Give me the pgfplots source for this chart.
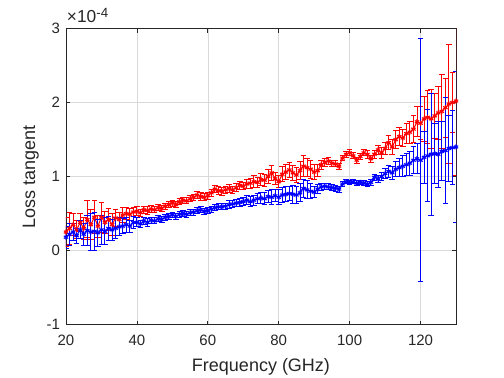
\documentclass[border=0pt]{standalone}
\usepackage{pgfplots}
\pgfplotsset{compat=1.18}
\usepackage{pgfplotstable}
\usepackage{fontspec}
\setmainfont{Liberation Sans}
\definecolor{axgray}{RGB}{38,38,38}
\pgfplotstableread{
x r re b be
20 0.25 0.20 0.18 0.15
21 0.30 0.22 0.22 0.15
22 0.35 0.15 0.25 0.12
23 0.28 0.12 0.20 0.10
24 0.38 0.12 0.28 0.12
25 0.30 0.15 0.22 0.15
26 0.42 0.25 0.27 0.20
27 0.35 0.20 0.25 0.25
28 0.45 0.22 0.26 0.26
29 0.33 0.15 0.24 0.18
30 0.45 0.20 0.28 0.20
31 0.38 0.15 0.26 0.18
32 0.42 0.15 0.30 0.16
33 0.35 0.15 0.28 0.14
34 0.44 0.12 0.30 0.14
35 0.42 0.10 0.32 0.12
36 0.48 0.10 0.33 0.10
37 0.50 0.08 0.35 0.10
38 0.49 0.08 0.33 0.08
39 0.52 0.06 0.38 0.08
40 0.53 0.06 0.38 0.06
41 0.51 0.05 0.36 0.05
42 0.55 0.05 0.40 0.05
43 0.54 0.05 0.38 0.05
44 0.56 0.05 0.41 0.04
45 0.55 0.04 0.40 0.04
46 0.58 0.04 0.43 0.04
47 0.57 0.04 0.42 0.04
48 0.60 0.04 0.45 0.04
49 0.62 0.04 0.46 0.04
50 0.64 0.04 0.48 0.04
51 0.62 0.04 0.46 0.04
52 0.66 0.04 0.49 0.04
53 0.68 0.04 0.50 0.04
54 0.67 0.04 0.49 0.04
55 0.70 0.04 0.51 0.04
56 0.72 0.04 0.52 0.04
57 0.75 0.05 0.54 0.04
58 0.73 0.05 0.55 0.04
59 0.72 0.05 0.53 0.04
60 0.74 0.05 0.54 0.04
61 0.78 0.05 0.56 0.04
62 0.83 0.05 0.58 0.04
63 0.81 0.05 0.59 0.04
64 0.80 0.05 0.59 0.04
65 0.82 0.05 0.60 0.04
66 0.84 0.05 0.62 0.05
67 0.82 0.05 0.63 0.05
68 0.85 0.05 0.64 0.05
69 0.88 0.05 0.65 0.05
70 0.87 0.05 0.66 0.05
71 0.90 0.06 0.68 0.06
72 0.91 0.07 0.66 0.07
73 0.93 0.08 0.68 0.07
74 0.92 0.07 0.70 0.07
75 0.96 0.08 0.71 0.07
76 0.95 0.08 0.70 0.08
77 1.00 0.09 0.73 0.08
78 1.05 0.10 0.72 0.10
79 0.97 0.08 0.74 0.08
80 0.93 0.08 0.72 0.10
81 1.03 0.10 0.75 0.10
82 1.06 0.10 0.76 0.10
83 1.09 0.10 0.77 0.10
84 1.05 0.10 0.76 0.12
85 1.02 0.10 0.75 0.12
86 1.08 0.12 0.78 0.12
87 1.14 0.14 0.84 0.12
88 1.12 0.12 0.82 0.12
89 1.10 0.12 0.80 0.10
90 1.06 0.10 0.79 0.08
91 1.08 0.08 0.83 0.06
92 1.16 0.06 0.86 0.05
93 1.19 0.05 0.87 0.04
94 1.21 0.05 0.86 0.04
95 1.18 0.04 0.85 0.04
96 1.17 0.04 0.84 0.04
97 1.14 0.04 0.83 0.04
98 1.25 0.04 0.90 0.03
99 1.30 0.04 0.93 0.03
100 1.32 0.04 0.92 0.03
101 1.28 0.04 0.93 0.03
102 1.22 0.04 0.91 0.03
103 1.27 0.04 0.92 0.03
104 1.32 0.04 0.91 0.03
105 1.30 0.05 0.90 0.03
106 1.24 0.05 0.92 0.04
107 1.30 0.05 0.99 0.04
108 1.36 0.06 0.97 0.05
109 1.32 0.07 1.00 0.06
110 1.38 0.08 1.04 0.07
111 1.46 0.09 1.07 0.08
112 1.40 0.10 1.05 0.09
113 1.50 0.12 1.10 0.10
114 1.54 0.12 1.12 0.12
115 1.52 0.12 1.14 0.14
116 1.58 0.13 1.16 0.15
117 1.60 0.15 1.18 0.16
118 1.64 0.18 1.22 0.18
119 1.74 0.20 1.24 0.20
120 1.72 0.22 1.22 1.64
121 1.78 0.30 1.26 0.35
122 1.80 0.36 1.28 0.62
123 1.78 0.40 1.30 0.82
124 1.82 0.30 1.31 0.40
125 1.86 0.36 1.30 0.45
126 1.88 0.50 1.34 0.40
127 1.93 0.40 1.35 0.72
128 1.98 0.80 1.38 0.45
129 2.00 0.40 1.39 0.50
130 2.02 1.00 1.40 1.02
}\data
\pgfplotsset{
  capstyle/.style={draw=#1, color=#1, line width=0.75pt, mark=none, forget plot,
    quiver={u=1.6, v=0, every arrow/.style={draw=#1, -}}},
}
\begin{document}
\begin{tikzpicture}
\useasboundingbox (-49.5pt,-40.1pt) rectangle (328.5pt,243.4pt);
\begin{axis}[
  at={(0,0)}, anchor=south west,
  scale only axis, width=292.5pt, height=222pt,
  xmin=20, xmax=130, ymin=-1, ymax=3,
  xtick={20,40,...,120}, ytick={-1,0,1,2,3},
  grid=major, major grid style={black!15, line width=0.4pt},
  axis line style={axgray, line width=0.5pt},
  tick style={axgray, line width=0.5pt},
  tick align=inside, major tick length=3pt,
  /pgf/number format/assume math mode=true,
  ticklabel style={font=\fontsize{11.25}{13}\selectfont, text=axgray},
  xticklabel style={yshift=-4pt},
  yticklabel style={xshift=-1pt},
  xlabel={Frequency (GHz)}, ylabel={Loss tangent},
  label style={font=\fontsize{13.5}{16}\selectfont, text=axgray},
  xlabel style={at={(axis description cs:0.5,-0.1426)}, anchor=center},
  ylabel style={at={(axis description cs:-0.09,0.5)}, anchor=center},
  clip=true,
]
% red series
\addplot[red, line width=0.75pt, mark=asterisk, mark size=1.9pt,
  mark options={line width=0.8pt, draw=red},
  error bars/.cd, y dir=both, y explicit, error mark=none,
  error bar style={red, line width=0.75pt}]
  table[x=x, y=r, y error=re] {\data};
\addplot[capstyle=red] table[x expr=\thisrow{x}-0.8, y expr=\thisrow{r}+\thisrow{re}] {\data};
\addplot[capstyle=red] table[x expr=\thisrow{x}-0.8, y expr=\thisrow{r}-\thisrow{re}] {\data};
% blue series
\addplot[blue, line width=0.75pt, mark=asterisk, mark size=1.9pt,
  mark options={line width=0.8pt, draw=blue},
  error bars/.cd, y dir=both, y explicit, error mark=none,
  error bar style={blue, line width=0.75pt}]
  table[x=x, y=b, y error=be] {\data};
\addplot[capstyle=blue] table[x expr=\thisrow{x}-0.8, y expr=\thisrow{b}+\thisrow{be}] {\data};
\addplot[capstyle=blue] table[x expr=\thisrow{x}-0.8, y expr=\thisrow{b}-\thisrow{be}] {\data};
\end{axis}
\node[anchor=south west, inner sep=0pt, font=\fontsize{13}{15}\selectfont, text=axgray]
  at ([xshift=0.5pt,yshift=4pt]current axis.north west) {×10\raisebox{0.6ex}{\fontsize{10}{12}\selectfont -4}};
\end{tikzpicture}
\end{document}
